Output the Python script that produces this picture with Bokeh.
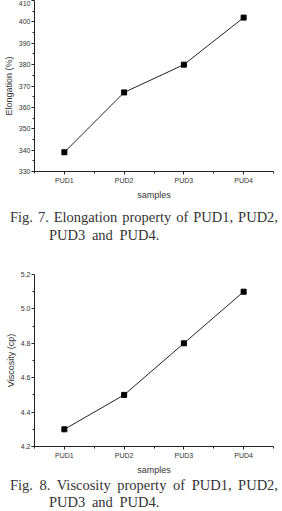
from bokeh.plotting import figure
from bokeh.layouts import column
from bokeh.models import Div, FixedTicker, Range1d
from bokeh.embed import file_html
from bokeh.resources import INLINE

samples = ["PUD1", "PUD2", "PUD3", "PUD4"]
elongation = [339, 367, 380, 402]
viscosity = [4.3, 4.5, 4.8, 5.1]

positions = [i + 1 for i in range(len(samples))]
overrides = {p: s for p, s in zip(positions, samples)}

TXT = "#333333"
FONT = "Liberation Sans"


def make_fig(values, ylabel, yr, yt, ymt, height, top, bottom, fmt):
    p = figure(width=282, height=height, output_backend="svg", toolbar_location=None,
               x_range=Range1d(0.5, 4.5), y_range=Range1d(*yr),
               min_border_left=31, min_border_right=9, min_border_top=top,
               min_border_bottom=bottom)
    p.outline_line_color = None
    p.grid.visible = False
    p.line(positions, values, line_color="#222222", line_width=1)
    p.scatter(positions, values, marker="square", size=5, color="black")
    p.xaxis.ticker = FixedTicker(ticks=positions, minor_ticks=[0.5, 1.5, 2.5, 3.5, 4.5])
    p.xaxis.major_label_overrides = overrides
    p.yaxis.ticker = FixedTicker(ticks=yt, minor_ticks=ymt)
    p.yaxis.major_label_overrides = {t: fmt.format(t) for t in yt}
    for ax in (p.xaxis[0], p.yaxis[0]):
        ax.axis_line_color = "#222222"
        ax.major_tick_line_color = "#222222"
        ax.minor_tick_line_color = "#222222"
        ax.major_tick_out = 3
        ax.major_tick_in = 0
        ax.minor_tick_out = 2
        ax.minor_tick_in = 0
        ax.major_label_text_font = FONT
        ax.major_label_text_font_size = "7px"
        ax.major_label_text_color = TXT
        ax.axis_label_text_font = FONT
        ax.axis_label_text_font_size = "9px"
        ax.axis_label_text_font_style = "normal"
        ax.axis_label_text_color = TXT
        ax.major_label_standoff = 2
        ax.axis_label_standoff = 3
    p.xaxis.axis_label = "samples"
    p.yaxis.axis_label = ylabel
    p.yaxis.major_label_standoff = 1
    p.yaxis.axis_label_standoff = 2
    return p


p1 = make_fig(elongation, "Elongation (%)", (330, 410),
              list(range(330, 411, 10)), list(range(335, 410, 10)),
              202, 0, 27, "{:.0f}")

p2 = make_fig(viscosity, "Viscosity (cp)", (4.2, 5.2),
              [4.2, 4.4, 4.6, 4.8, 5.0, 5.2], [4.3, 4.5, 4.7, 4.9, 5.1],
              217, 14, 27, "{:.1f}")


def caption(first, second, pad_top, h, lh):
    style = ("font-family:'Liberation Serif',serif;font-size:14.5px;color:#333;"
             f"line-height:{lh}px;margin:0;white-space:nowrap;")
    html = (f"<div style=\"{style}padding-top:{pad_top}px;padding-left:10px;\">"
            f"<div style='width:268px;text-align:justify;text-align-last:justify;'>{first}</div>"
            f"<div style='padding-left:39px;word-spacing:3px;'>{second}</div></div>")
    return Div(text=html, width=282, height=h, margin=(0, 0, 0, 0),
               styles={"overflow": "hidden"})


d1 = caption("Fig. 7. Elongation property of PUD1, PUD2,", "PUD3 and PUD4.", 6, 58, 18)
d2 = caption("Fig. 8. Viscosity property of PUD1, PUD2,", "PUD3 and PUD4.", 0, 34, 17)

layout = column(p1, d1, p2, d2, spacing=0, margin=(0, 0, 0, 0))

open("out.html", "w").write(file_html(layout, INLINE))
